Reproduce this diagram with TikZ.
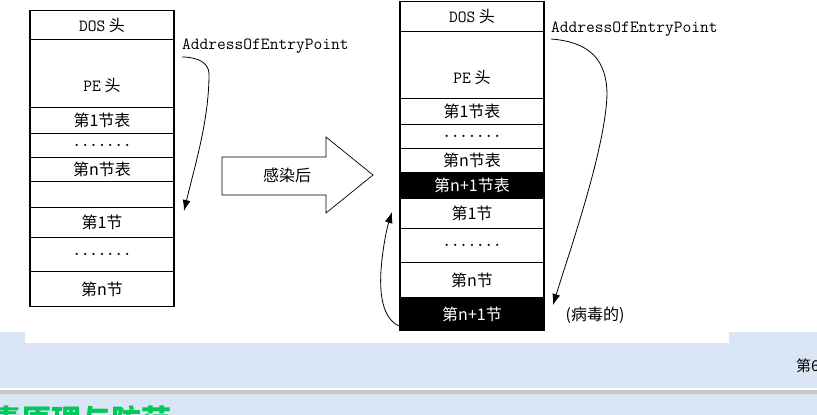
\documentclass[tikz,border=0pt]{standalone}
\usepackage{fontspec}
\usepackage{tikz}
\usetikzlibrary{arrows.meta}
\newfontfamily\cjk{Noto Sans CJK SC}
\newcommand\mono{\ttfamily}
\definecolor{slideblue}{RGB}{218,230,245}
\definecolor{slidegreen}{RGB}{0,200,90}
\definecolor{rulegray}{RGB}{200,200,200}

\begin{document}
\begin{tikzpicture}[x=1pt,y=-1pt]


\tikzset{Row/.style = {draw, line width=1.2pt, minimum width=144pt, inner sep=0pt,
                       anchor=north, font=\cjk\fontsize{16}{18}\selectfont},
         BlackRow/.style = {Row, fill=black, text=white},
         Dots/.style = {font=\mono\bfseries\fontsize{16}{18}\selectfont},
         Label/.style = {inner sep=0pt, anchor=west, font=\mono\fontsize{17}{19}\selectfont},
         Link/.style = {line width=.8pt, -{Latex[length=11pt,width=8pt]}}}

\useasboundingbox (0,0) rectangle (817,415);

% slide background
\fill[slideblue] (0,332) -- (25,332) -- (25,343) -- (729,343) -- (729,332) -- (817,332)
                 -- (817,415) -- (0,415) -- cycle;
\fill[white] (0,388) rectangle (817,390);
\fill[rulegray] (0,390) rectangle (817,394);

% file before
\node[Row, minimum height=29pt] (dosL) at (102,10) {{\mono\fontsize{17}{19}\selectfont DOS} 头};
\node[Row, minimum height=68pt] (peL) at (102,39) {};
\node[Row, minimum height=26pt] (sec1tabL) at (102,107) {第1节表};
\node[Row, Dots, minimum height=24pt] (dotstabL) at (102,133) {.......};
\node[Row, minimum height=24pt] (secntabL) at (102,157) {第n节表};
\node[Row, minimum height=26pt] (gapL) at (102,181) {};
\node[Row, minimum height=30pt] (sec1L) at (102,207) {第1节};
\node[Row, Dots, minimum height=34pt] (dotssecL) at (102,237) {.......};
\node[Row, minimum height=35pt] (secnL) at (102,271) {第n节};
\node[font=\cjk\fontsize{16}{18}\selectfont] (peTextL) at (102,85) {{\mono\fontsize{17}{19}\selectfont PE} 头};

% file after
\node[Row, minimum height=30.4pt] (dosR) at (472,0.6) {{\mono\fontsize{17}{19}\selectfont DOS} 头};
\node[Row, minimum height=67pt] (peR) at (472,31) {};
\node[Row, minimum height=26pt] (sec1tabR) at (472,98) {第1节表};
\node[Row, Dots, minimum height=24pt] (dotstabR) at (472,124) {.......};
\node[Row, minimum height=24pt] (secntabR) at (472,148) {第n节表};
\node[BlackRow, minimum height=26pt] (virtabR) at (472,172) {第n+1节表};
\node[Row, minimum height=30pt] (sec1R) at (472,198) {第1节};
\node[Row, Dots, minimum height=34pt] (dotssecR) at (472,228) {.......};
\node[Row, minimum height=35pt] (secnR) at (472,262) {第n节};
\node[BlackRow, minimum height=33pt] (virsecR) at (472,297) {第n+1节};
\node[font=\cjk\fontsize{16}{18}\selectfont] (peTextR) at (472,77) {{\mono\fontsize{17}{19}\selectfont PE} 头};

% infection arrow
\draw[line width=.7pt] (222,157) -- (326,157) -- (326,137) -- (373,175) -- (326,213)
                       -- (326,195) -- (222,195) -- cycle;
\node[font=\cjk\fontsize{16}{18}\selectfont] (infect) at (287,175) {感染后};

% entry point labels
\node[Label] (entryL) at (182,46) {AddressOfEntryPoint};
\node[Label] (entryR) at (551,29) {AddressOfEntryPoint};
\node[font=\cjk\fontsize{16}{18}\selectfont] (virnote) at (595,315) {(病毒的)};

\coordinate (startL) at (182,57);
\coordinate (tipL) at (184,211);
\coordinate (startR) at (551,39);
\coordinate (tipR) at (553,305);
\coordinate (tipBack) at (392,212);

\draw[Link] (startL) .. controls (198,57) and (209,63) .. (209,74)
            .. controls (209,120) and (195,165) .. (tipL);
\draw[Link] (startR) .. controls (590,42) and (607,60) .. (607,95)
            .. controls (605,150) and (570,250) .. (tipR);
\draw[Link] ([yshift=-12pt]virsecR.west) .. controls (385,320) and (379,300) .. (381,270)
            .. controls (383,245) and (387,228) .. (tipBack);

% slide footer
\node[anchor=west, inner sep=0pt, font=\cjk\fontsize{15}{18}\selectfont] (chapter) at (796,366) {第6章};
\node[anchor=base west, inner sep=0pt, text=slidegreen, font=\cjk\bfseries\fontsize{30}{34}\selectfont]
     (title) at (-39,431) {病毒原理与防范};

\end{tikzpicture}
\end{document}
